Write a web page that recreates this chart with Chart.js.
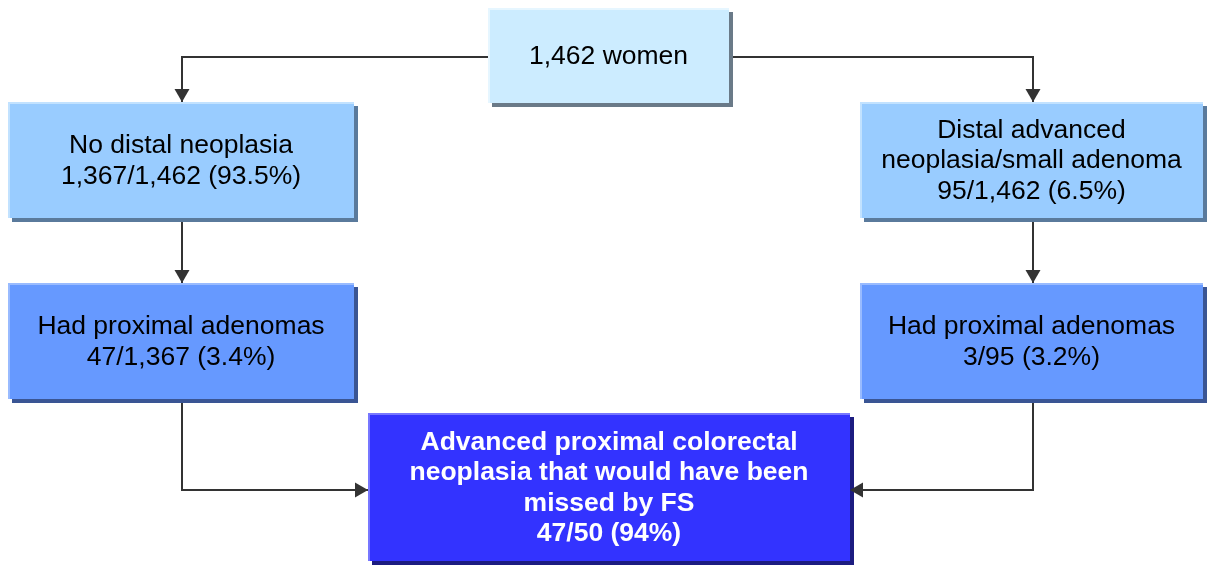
<!DOCTYPE html>
<html>
<head>
<meta charset="utf-8">
<script src="https://cdn.jsdelivr.net/npm/chart.js@4"></script>
<style>
  body { margin: 0; background: #fff; }
  #wrap { width: 1211px; height: 567px; }
</style>
</head>
<body>
<div id="wrap"><canvas id="flow"></canvas></div>
<script>
// Box texts (one entry per line)
const topLabel = ['1,462 women'];
const leftLabels = [['No distal neoplasia', '1,367/1,462 (93.5%)'], ['Had proximal adenomas', '47/1,367 (3.4%)']];
const rightLabels = [['Distal advanced', 'neoplasia/small adenoma', '95/1,462 (6.5%)'], ['Had proximal adenomas', '3/95 (3.2%)']];
const bottomLabel = ['Advanced proximal colorectal', 'neoplasia that would have been', 'missed by FS', '47/50 (94%)'];

// Layout in chart units (x: 0..1211, y: 0..567 top-down)
const boxes = [
  { lines: topLabel, x0: 488, y0: 8, x1: 729, y1: 103, fill: '#ccecff', hi: '#e6f6ff', shadow: '#6a7a88', color: '#000', bold: false },
  { lines: leftLabels[0], x0: 8, y0: 102, x1: 354, y1: 218, fill: '#99ccff', hi: '#c2e2ff', shadow: '#5a7a9c', color: '#000', bold: false },
  { lines: rightLabels[0], x0: 860, y0: 102, x1: 1203, y1: 218, fill: '#99ccff', hi: '#c2e2ff', shadow: '#5a7a9c', color: '#000', bold: false },
  { lines: leftLabels[1], x0: 8, y0: 283, x1: 354, y1: 399, fill: '#6699ff', hi: '#99bbff', shadow: '#3a5594', color: '#000', bold: false },
  { lines: rightLabels[1], x0: 860, y0: 283, x1: 1203, y1: 399, fill: '#6699ff', hi: '#99bbff', shadow: '#3a5594', color: '#000', bold: false },
  { lines: bottomLabel, x0: 368, y0: 413, x1: 850, y1: 561, fill: '#3333ff', hi: '#7777ff', shadow: '#1c1c80', color: '#fff', bold: true }
];

// Connector paths, the last point gets an arrowhead
const connectors = [
  [{ x: 488, y: 57 }, { x: 182, y: 57 }, { x: 182, y: 102 }],
  [{ x: 729, y: 57 }, { x: 1033, y: 57 }, { x: 1033, y: 102 }],
  [{ x: 182, y: 218 }, { x: 182, y: 283 }],
  [{ x: 1033, y: 218 }, { x: 1033, y: 283 }],
  [{ x: 182, y: 399 }, { x: 182, y: 490 }, { x: 368, y: 490 }],
  [{ x: 1033, y: 399 }, { x: 1033, y: 490 }, { x: 850, y: 490 }]
];

const lineColor = '#333333';

const flowPlugin = {
  id: 'flowBoxes',
  afterDatasetsDraw(chart) {
    const ctx = chart.ctx;
    const xs = chart.scales.x, ys = chart.scales.y;
    const px = v => xs.getPixelForValue(v);
    const py = v => ys.getPixelForValue(v);

    boxes.forEach(b => {
      const x0 = px(b.x0), y0 = py(b.y0), x1 = px(b.x1), y1 = py(b.y1);
      ctx.save();
      ctx.fillStyle = b.shadow;
      ctx.fillRect(x0 + 4, y0 + 4, x1 - x0, y1 - y0);
      ctx.fillStyle = b.fill;
      ctx.fillRect(x0, y0, x1 - x0, y1 - y0);
      ctx.strokeStyle = b.hi;
      ctx.lineWidth = 2;
      ctx.beginPath();
      ctx.moveTo(x0 + 1, y1);
      ctx.lineTo(x0 + 1, y0 + 1);
      ctx.lineTo(x1, y0 + 1);
      ctx.stroke();

      ctx.fillStyle = b.color;
      ctx.font = (b.bold ? 'bold ' : '') + '26.5px "Liberation Sans", Arial, sans-serif';
      ctx.textAlign = 'center';
      ctx.textBaseline = 'middle';
      const lh = 30.5;
      const cx = (x0 + x1) / 2, cy = (y0 + y1) / 2;
      const start = cy - (b.lines.length - 1) * lh / 2;
      b.lines.forEach((t, i) => ctx.fillText(t, cx, start + i * lh + 1));
      ctx.restore();
    });

    // arrowheads
    connectors.forEach(path => {
      const a = path[path.length - 2], e = path[path.length - 1];
      const ex = px(e.x), ey = py(e.y);
      const ang = Math.atan2(ey - py(a.y), ex - px(a.x));
      const len = 13, half = 7.5;
      ctx.save();
      ctx.translate(ex, ey);
      ctx.rotate(ang);
      ctx.fillStyle = lineColor;
      ctx.beginPath();
      ctx.moveTo(0, 0);
      ctx.lineTo(-len, -half);
      ctx.lineTo(-len, half);
      ctx.closePath();
      ctx.fill();
      ctx.restore();
    });
  }
};

new Chart(document.getElementById('flow'), {
  type: 'scatter',
  data: {
    datasets: connectors.map(path => ({
      data: path,
      showLine: true,
      borderColor: lineColor,
      borderWidth: 2,
      pointRadius: 0,
      fill: false,
      tension: 0
    }))
  },
  options: {
    responsive: true,
    maintainAspectRatio: false,
    animation: false,
    layout: { padding: 0 },
    plugins: {
      legend: { display: false },
      tooltip: { enabled: false }
    },
    scales: {
      x: { type: 'linear', min: 0, max: 1211, display: false },
      y: { type: 'linear', min: 0, max: 567, reverse: true, display: false }
    }
  },
  plugins: [flowPlugin]
});
</script>
</body>
</html>
